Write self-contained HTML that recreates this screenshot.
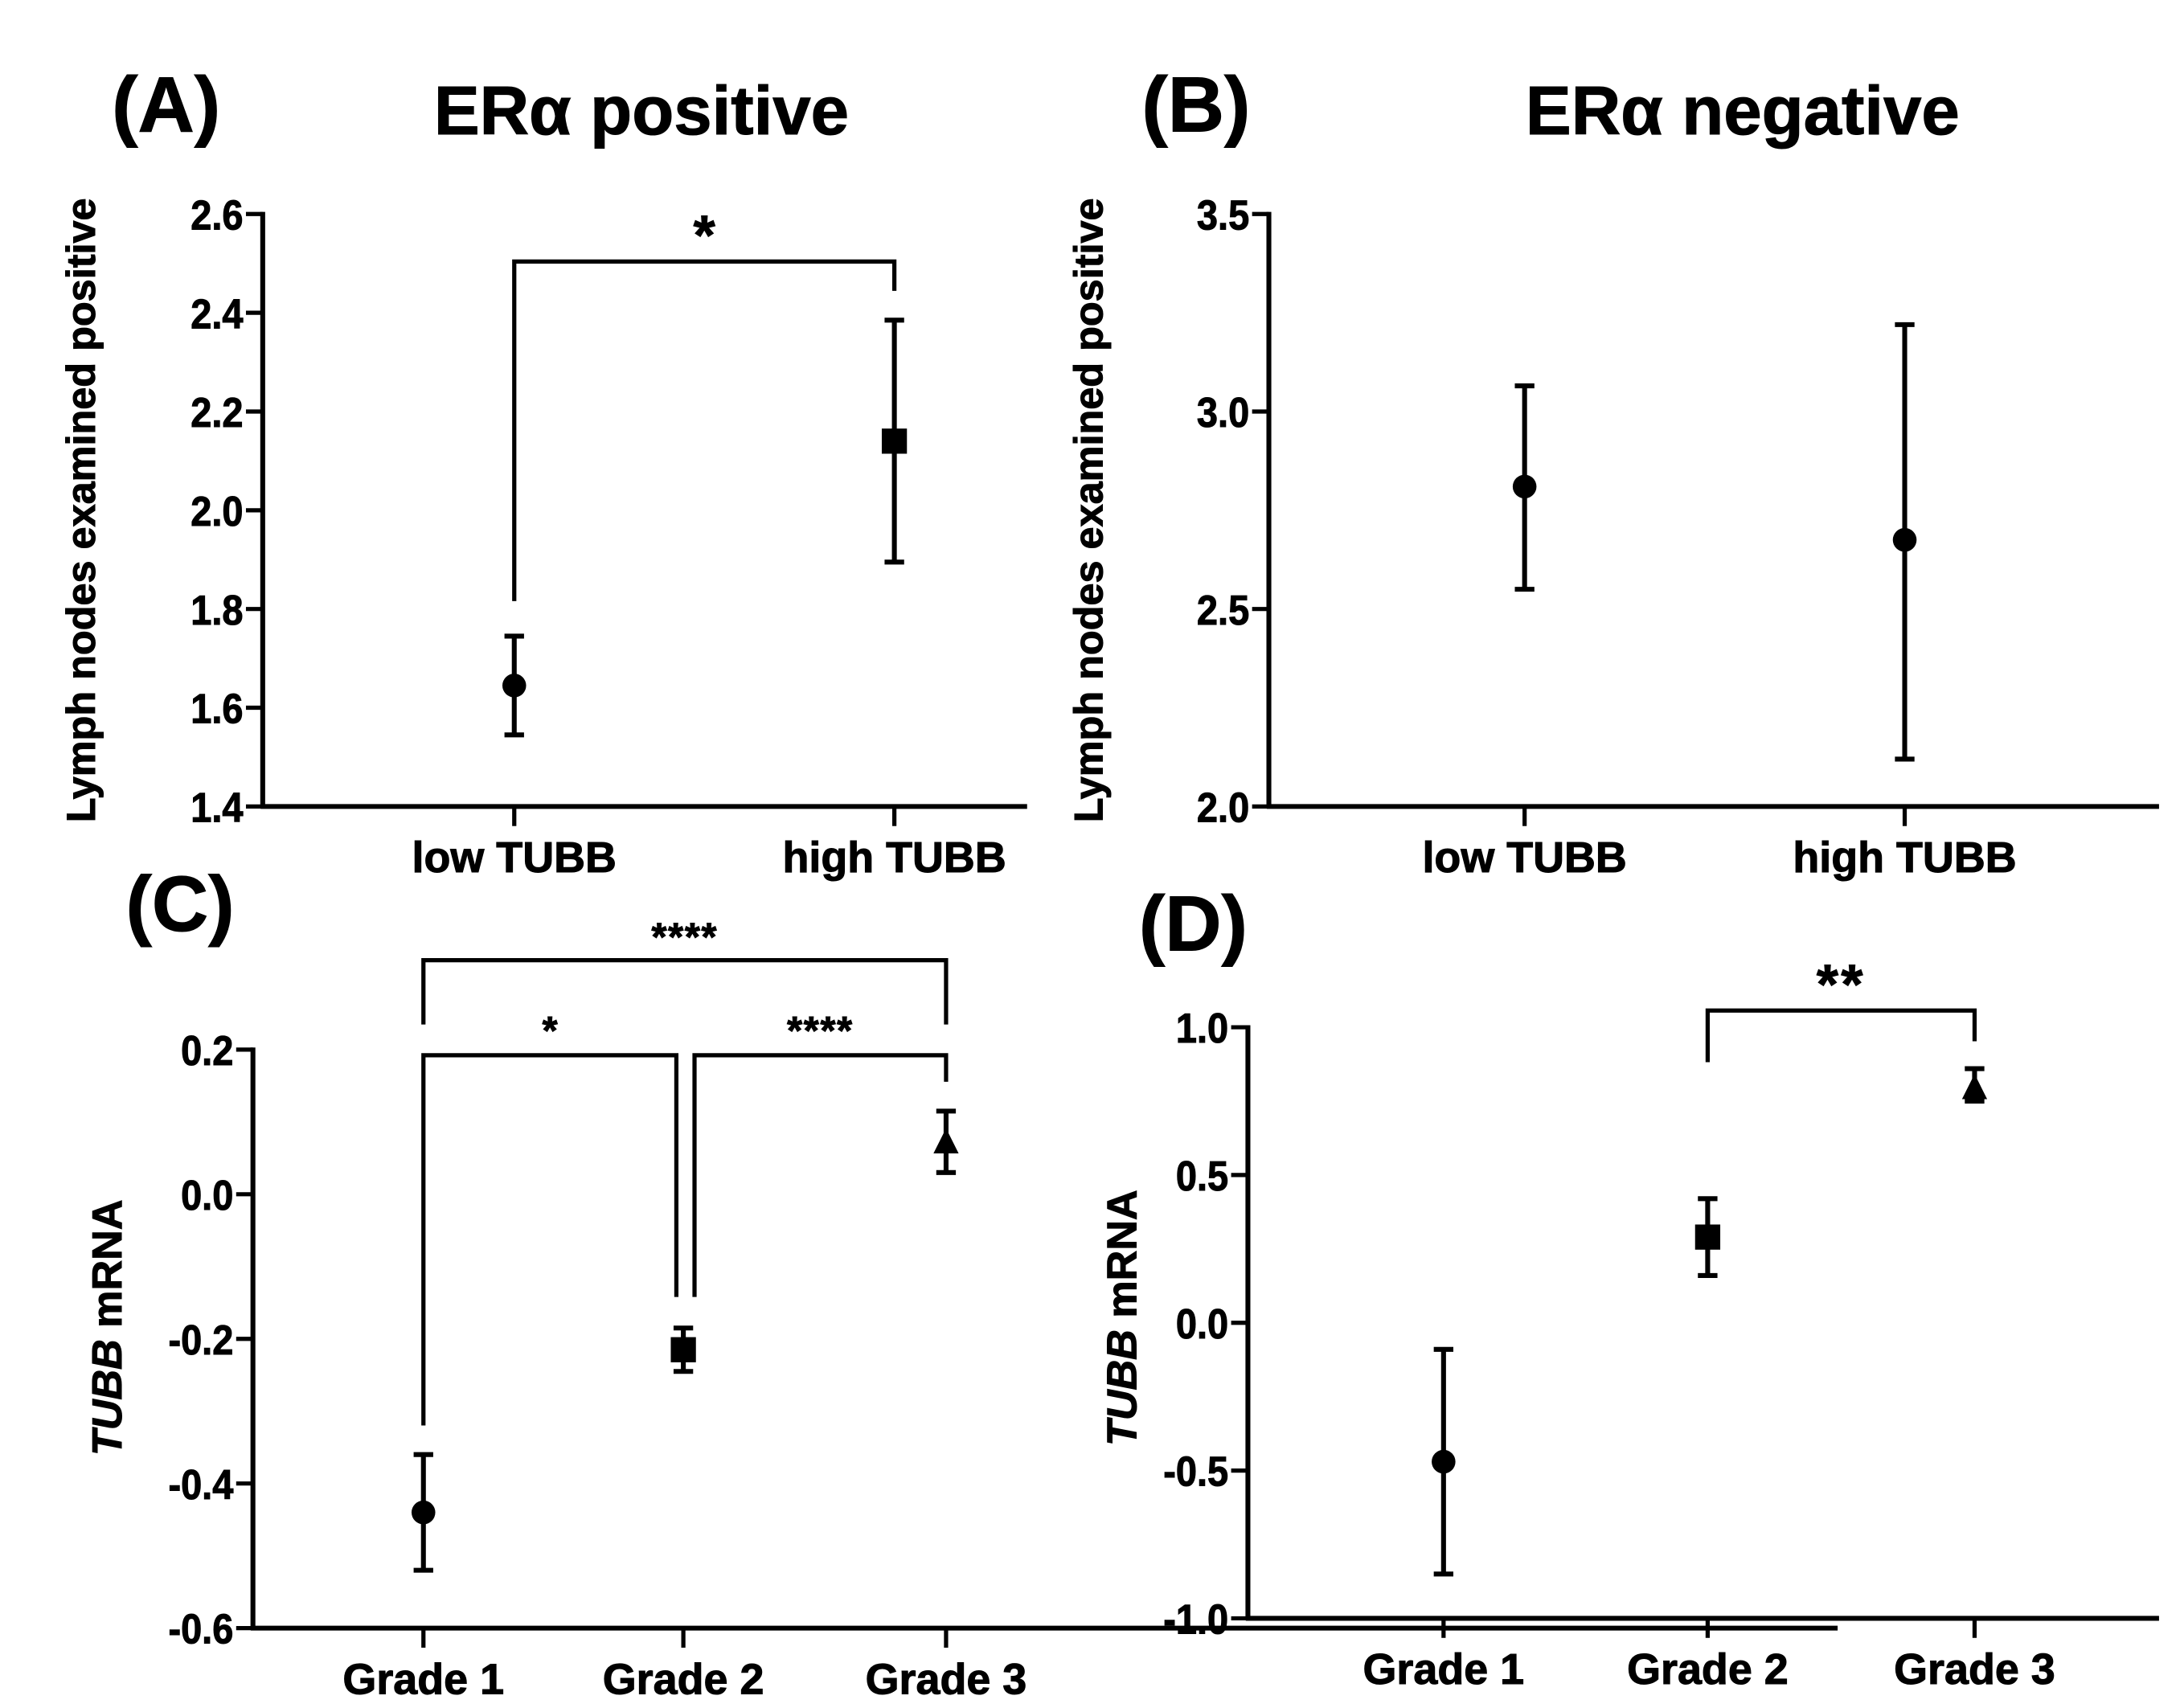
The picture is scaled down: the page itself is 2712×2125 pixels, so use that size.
<!DOCTYPE html>
<html><head><meta charset="utf-8"><style>
html,body{margin:0;padding:0;background:#fff;}
svg{display:block;font-family:"Liberation Sans",Arial,sans-serif;}
</style></head><body>
<svg id="fig" xmlns="http://www.w3.org/2000/svg" width="2712" height="2125" viewBox="0 0 1560 1222">
<rect width="1560" height="1222" fill="#fff"/>
</svg>
<script>
// Panel A data
const catsA = ["low TUBB", "high TUBB"];
const meanA = [1.645, 2.14];
const lowA = [1.545, 1.895];
const highA = [1.745, 2.385];
const ticksA = [1.4, 1.6, 1.8, 2.0, 2.2, 2.4, 2.6];
// Panel B data
const catsB = ["low TUBB", "high TUBB"];
const meanB = [2.81, 2.675];
const lowB = [2.55, 2.12];
const highB = [3.065, 3.22];
const ticksB = [2.0, 2.5, 3.0, 3.5];
// Panel C data
const catsC = ["Grade 1", "Grade 2", "Grade 3"];
const meanC = [-0.44, -0.215, 0.07];
const lowC = [-0.52, -0.245, 0.03];
const highC = [-0.36, -0.185, 0.115];
const ticksC = [-0.6, -0.4, -0.2, 0.0, 0.2];
// Panel D data
const catsD = ["Grade 1", "Grade 2", "Grade 3"];
const meanD = [-0.47, 0.29, 0.79];
const lowD = [-0.85, 0.16, 0.75];
const highD = [-0.09, 0.42, 0.86];
const ticksD = [-1.0, -0.5, 0.0, 0.5, 1.0];

const NS = "http://www.w3.org/2000/svg";
const svg = document.getElementById("fig");
function mk(tag, attrs, parent, text) {
  const e = document.createElementNS(NS, tag);
  for (const k in attrs) e.setAttribute(k, attrs[k]);
  if (text !== undefined) e.textContent = text;
  (parent || svg).appendChild(e);
  return e;
}
function line(g, x1, y1, x2, y2, w) {
  return mk("line", {x1, y1, x2, y2, stroke: "#000", "stroke-width": w || 3}, g);
}
const BOLD = {"font-weight": "bold", stroke: "#000", "stroke-width": 0.6};
function txt(g, attrs, s) {
  return mk("text", Object.assign({}, BOLD, attrs), g, s);
}

function panel(cfg) {
  const g = mk("g", {});
  
  
  const ymin = cfg.ticks[0], ymax = cfg.ticks[cfg.ticks.length - 1];
  const Y = v => cfg.yb - (v - ymin) / (ymax - ymin) * (cfg.yb - cfg.yt);
  const X = i => cfg.cx[i];
  const ya = line(g, cfg.ax, cfg.yt - 1.5, cfg.ax, cfg.yb + 1.5, 3.5);
  
  
  const xa = line(g, cfg.ax - 1.5, cfg.yb, cfg.xr, cfg.yb, 3.5);
  
  
  cfg.ticks.forEach(t => {
    line(g, cfg.ax - 12, Y(t), cfg.ax, Y(t), 3);
    const tl = txt(g, {x: cfg.ax - 14, y: Y(t) + 11, "text-anchor": "end", "font-size": 30, transform: `translate(${cfg.ax - 14},0) scale(0.9,1) translate(${-(cfg.ax - 14)},0)`}, t.toFixed(1));
    
    
  });
  cfg.cats.forEach((c, i) => {
    line(g, X(i), cfg.yb, X(i), cfg.yb + 14, 3);
    const cl = txt(g, {x: X(i), y: cfg.yb + 47, "text-anchor": "middle", "font-size": 31}, c);
    
    
  });
  const ty = txt(g, {x: 0, y: 0, transform: `translate(${cfg.titleX},${cfg.titleY}) rotate(-90)`, "text-anchor": "middle", "font-size": cfg.titleFs});
  
  
  if (cfg.italicTitle) {
    mk("tspan", {"font-style": "italic"}, ty, "TUBB");
    mk("tspan", {}, ty, " mRNA");
  } else ty.textContent = cfg.ytitle;
  cfg.mean.forEach((m, i) => {
    const x = X(i);
    const eb = mk("g", {}, g);
    
    
    line(eb, x, Y(cfg.low[i]), x, Y(cfg.high[i]), 3.5);
    line(eb, x - 7, Y(cfg.low[i]), x + 7, Y(cfg.low[i]), 3.5);
    line(eb, x - 7, Y(cfg.high[i]), x + 7, Y(cfg.high[i]), 3.5);
    const shape = cfg.shapes[i];
    let p;
    if (shape === "circle") p = mk("circle", {cx: x, cy: Y(m), r: 8.5, fill: "#000"}, g);
    else if (shape === "square") p = mk("rect", {x: x - 9, y: Y(m) - 9, width: 18, height: 18, fill: "#000"}, g);
    else p = mk("polygon", {points: `${x},${Y(m) - 11} ${x - 9},${Y(m) + 7} ${x + 9},${Y(m) + 7}`, fill: "#000"}, g);
    
    
  });
  return {g, Y, X};
}
function bracket(g, x1, x2, y, d1, d2, label, ly, fs, ls) {
  const b = mk("g", {}, g);
  
  
  mk("polyline", {points: `${x1},${d1} ${x1},${y} ${x2},${y} ${x2},${d2}`, fill: "none", stroke: "#000", "stroke-width": 3}, b);
  const t = txt(b, {x: (x1 + x2) / 2, y: ly, "text-anchor": "middle", "font-size": fs, "letter-spacing": ls || 0}, label);
  
  
}
function label(x, y, s, fs, name) {
  const t = txt(svg, {x, y, "font-size": fs}, s);
  
  
}

const A = panel({name: "panel-a", cats: catsA, mean: meanA, low: lowA, high: highA, ticks: ticksA,
  ax: 188, yt: 153, yb: 577, xr: 735, cx: [368, 640], titleX: 68, titleY: 365, titleFs: 29, ytitle: "Lymph nodes examined positive",
  shapes: ["circle", "square"]});
bracket(A.g, A.X(0), A.X(1), 187, 430, 208, "*", 182, 40);
label(80, 94, "(A)", 56, "panel-label-a");
const tA = txt(svg, {x: 459, y: 96, "text-anchor": "middle", "font-size": 49}, "ERα positive");



const B = panel({name: "panel-b", cats: catsB, mean: meanB, low: lowB, high: highB, ticks: ticksB,
  ax: 908, yt: 153, yb: 577, xr: 1545, cx: [1091, 1363], titleX: 789, titleY: 365, titleFs: 29, ytitle: "Lymph nodes examined positive",
  shapes: ["circle", "circle"]});
label(817, 94, "(B)", 56, "panel-label-b");
const tB = txt(svg, {x: 1247, y: 96, "text-anchor": "middle", "font-size": 49}, "ERα negative");



const C = panel({name: "panel-c", cats: catsC, mean: meanC, low: lowC, high: highC, ticks: ticksC,
  ax: 181, yt: 751, yb: 1165, xr: 1315, cx: [303, 489, 677], titleX: 87, titleY: 950, titleFs: 30, italicTitle: true,
  shapes: ["circle", "square", "triangle"]});
bracket(C.g, 303, 677, 687, 733, 733, "****", 680, 28, 1);
bracket(C.g, 303, 484, 755, 1020, 928, "*", 747, 28);
bracket(C.g, 497, 677, 755, 928, 774, "****", 747, 28, 1);
label(90, 666, "(C)", 56, "panel-label-c");

const D = panel({name: "panel-d", cats: catsD, mean: meanD, low: lowD, high: highD, ticks: ticksD,
  ax: 893, yt: 735, yb: 1158, xr: 1545, cx: [1033, 1222, 1413], titleX: 813, titleY: 943, titleFs: 30, italicTitle: true,
  shapes: ["circle", "square", "triangle"]});
bracket(D.g, 1222, 1413, 723, 760, 745, "**", 718, 40, 2);
label(815, 680, "(D)", 56, "panel-label-d");
</script>
</body></html>
